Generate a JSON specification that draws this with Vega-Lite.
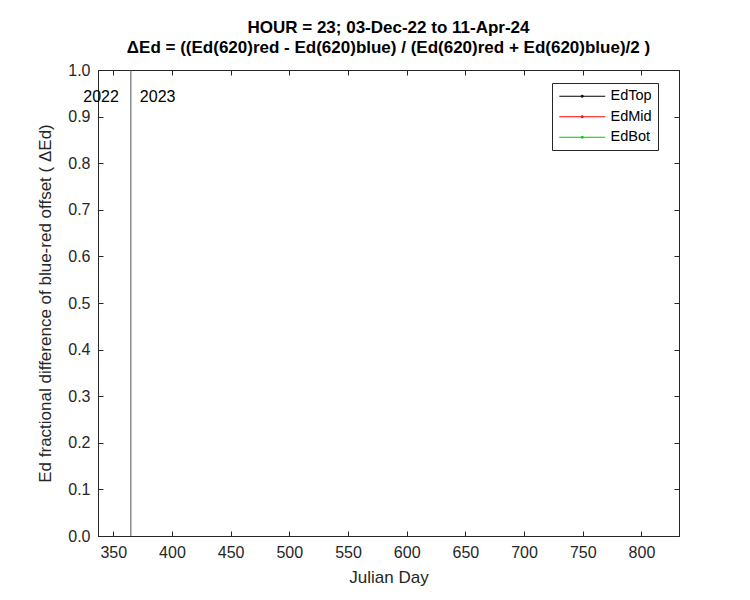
{
  "$schema": "https://vega.github.io/schema/vega-lite/v6.json",
  "autosize": "none",
  "width": 581,
  "height": 466,
  "padding": {"left": 98, "top": 70, "right": 71, "bottom": 64},
  "background": "white",
  "config": {
    "font": "Liberation Sans",
    "view": {"stroke": "#262626", "strokeWidth": 1},
    "axis": {"grid": false, "domainColor": "#262626", "tickColor": "#262626", "labelColor": "#262626", "titleColor": "#262626", "labelFont": "Liberation Sans", "titleFont": "Liberation Sans", "labelFontSize": 16, "titleFontSize": 17, "titleFontWeight": "normal"}
  },
  "title": {
    "text": ["HOUR = 23; 03-Dec-22 to 11-Apr-24", "ΔEd = ((Ed(620)red - Ed(620)blue) / (Ed(620)red + Ed(620)blue)/2  )"],
    "font": "Liberation Sans",
    "fontSize": 17,
    "fontWeight": "bold",
    "color": "black",
    "anchor": "middle",
    "lineHeight": 20,
    "offset": 5
  },
  "datasets": {
    "series": [
      {"series": "EdTop", "day": null, "value": null},
      {"series": "EdMid", "day": null, "value": null},
      {"series": "EdBot", "day": null, "value": null}
    ],
    "years": [
      {"day": 365, "value": 0.942, "label": "2022", "side": "left"},
      {"day": 365, "value": 0.942, "label": "2023", "side": "right"}
    ],
    "boundary": [{"day": 365}]
  },
  "layer": [
    {
      "data": {"name": "series"},
      "mark": {"type": "line", "strokeWidth": 1},
      "encoding": {
        "x": {"field": "day", "type": "quantitative", "scale": {"domain": [337, 832], "nice": false, "zero": false},
              "axis": {"title": "Julian Day", "values": [350,400,450,500,550,600,650,700,750,800], "tickSize": -5, "labelPadding": 13, "titlePadding": 9}},
        "y": {"field": "value", "type": "quantitative", "scale": {"domain": [0, 1], "nice": false},
              "axis": {"title": "Ed fractional difference of blue-red offset (  ΔEd)", "values": [0,0.1,0.2,0.3,0.4,0.5,0.6,0.7,0.8,0.9,1.0], "format": ".1f", "tickSize": -5, "labelPadding": 13, "titlePadding": 13}},
        "color": {"field": "series", "type": "nominal",
          "scale": {"domain": ["EdTop", "EdMid", "EdBot"], "range": ["#000000", "#ff0000", "#00c800"]},
          "legend": {"title": null, "orient": "none", "legendX": 454, "legendY": 13,
            "strokeColor": "#262626", "fillColor": "white", "padding": 6,
            "symbolType": "M-4,0H4M-0.15,-0.15H0.15V0.15H-0.15Z", "symbolSize": 132, "symbolStrokeWidth": 1, "symbolOffset": 17,
            "labelFontSize": 14.5, "labelColor": "black", "labelFont": "Liberation Sans", "labelOffset": 21, "rowPadding": 5.5, "labelLimit": 200,
            "labelExpr": "datum.label + '\u00a0\u00a0\u00a0'"}}
      }
    },
    {
      "data": {"name": "boundary"},
      "mark": {"type": "rule", "color": "#555555", "strokeWidth": 1},
      "encoding": {"x": {"field": "day", "type": "quantitative", "axis": {"orient": "top", "labels": false, "title": null, "values": [350,400,450,500,550,600,650,700,750,800], "tickSize": -5}}}
    },
    {
      "data": {"name": "years"},
      "transform": [{"filter": "datum.side == 'left'"}],
      "mark": {"type": "text", "align": "right", "baseline": "middle", "dx": -12, "fontSize": 16, "font": "Liberation Sans", "color": "black"},
      "encoding": {
        "x": {"field": "day", "type": "quantitative", "axis": null},
        "y": {"field": "value", "type": "quantitative", "axis": {"orient": "right", "labels": false, "title": null, "values": [0,0.1,0.2,0.3,0.4,0.5,0.6,0.7,0.8,0.9,1.0], "tickSize": -5}},
        "text": {"field": "label"}
      }
    },
    {
      "data": {"name": "years"},
      "transform": [{"filter": "datum.side == 'right'"}],
      "mark": {"type": "text", "align": "left", "baseline": "middle", "dx": 9, "fontSize": 16, "font": "Liberation Sans", "color": "black"},
      "encoding": {
        "x": {"field": "day", "type": "quantitative", "axis": null},
        "y": {"field": "value", "type": "quantitative", "axis": null},
        "text": {"field": "label"}
      }
    }
  ],
  "resolve": {"axis": {"x": "independent", "y": "independent"}}
}
